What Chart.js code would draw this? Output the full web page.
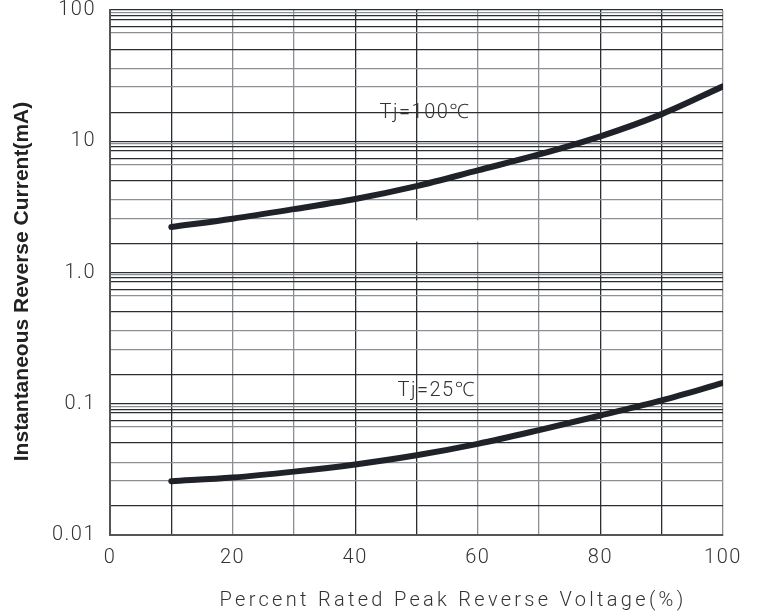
<!DOCTYPE html>
<html>
<head>
<meta charset="utf-8">
<script src="https://cdn.jsdelivr.net/npm/chart.js@4/dist/chart.umd.min.js"></script>
<style>
  html, body { margin: 0; padding: 0; background: #fff; }
  #wrap { width: 763px; height: 615px; }
</style>
</head>
<body>
<div id="wrap"><canvas id="c" width="763" height="615"></canvas></div>
<script>
// ---- data ----
const xValues = [10, 20, 30, 40, 50, 60, 70, 80, 90, 100];
const tj100 = [2.22, 2.57, 3.04, 3.63, 4.55, 6.0, 7.93, 10.9, 16.1, 26.2];
const tj25 = [0.0257, 0.0274, 0.0304, 0.0345, 0.0405, 0.0495, 0.063, 0.0814, 0.106, 0.144];
const xTicks = [0, 10, 20, 30, 40, 50, 60, 70, 80, 90, 100];
const xTickLabels = ['0', '', '20', '', '40', '', '60', '', '80', '', '100'];
const yDecades = [0.01, 0.1, 1, 10, 100];
const yDecadeLabels = ['0.01', '0.1', '1.0', '10', '100'];
const labelTexts = ['Tj=100\u2103', 'Tj=25\u2103'];
const labelAt = [[51.4, 16.3], [53.3, 0.124]];
const xTitle = 'Percent Rated Peak Reverse Voltage(%)';
const yTitle = 'Instantaneous Reverse Current(mA)';

// grid styling (within each decade)
const minorFractions = [0.22, 0.413, 0.555, 0.70, 0.825, 0.871, 0.929, 0.957, 0.98];
const minorDark = [true, false, false, true, false, true, true, true, false];
const DARK = '#2a2e33', GREY = '#8c8f93';

const yTickValues = [];
const yTickDark = [];
yDecades.forEach((d, i) => {
  yTickValues.push(d); yTickDark.push(true);
  if (i < yDecades.length - 1) {
    minorFractions.forEach((f, j) => { yTickValues.push(d * Math.pow(10, f)); yTickDark.push(minorDark[j]); });
  }
});
const xDark = [true, true, false, false, true, true, false, false, true, true, false];

const toPts = (ys) => xValues.map((x, i) => ({ x: x, y: ys[i] }));
const FONT = 'Roboto, "Noto Sans", sans-serif';

const extrasPlugin = {
  id: 'extras',
  beforeDraw(chart) {
    try { chart.ctx.letterSpacing = '1.5px'; } catch (e) {}
  },
  beforeDatasetsDraw(chart) {
    const { ctx, scales: { x, y } } = chart;
    ctx.save();
    ctx.fillStyle = '#fff';
    const x0 = x.getPixelForValue(47), x1 = x.getPixelForValue(63);
    const y0 = y.getPixelForValue(2.5), y1 = y.getPixelForValue(1.72);
    ctx.fillRect(x0, y0, x1 - x0, y1 - y0);
    ctx.restore();
  },
  afterDraw(chart) {
    const { ctx, chartArea, scales: { x, y } } = chart;
    ctx.save();
    ctx.fillStyle = '#333';
    ctx.textAlign = 'center';
    ctx.textBaseline = 'middle';
    ctx.font = '300 20px ' + FONT;
    try { ctx.letterSpacing = '1.5px'; } catch (e) {}
    labelTexts.forEach((t, i) => {
      ctx.fillText(t, x.getPixelForValue(labelAt[i][0]), y.getPixelForValue(labelAt[i][1]));
    });
    // x axis title
    try { ctx.letterSpacing = '3.3px'; } catch (e) {}
    ctx.fillText(xTitle, 453, 601);
    // y axis title
    try { ctx.letterSpacing = '0px'; } catch (e) {}
    ctx.fillStyle = '#222';
    ctx.font = 'bold 21px "Liberation Sans", Arial, sans-serif';
    ctx.translate(22, (chartArea.top + chartArea.bottom) / 2 + 9);
    ctx.rotate(-Math.PI / 2);
    ctx.fillText(yTitle, 0, 0);
    ctx.restore();
    try { ctx.letterSpacing = '0px'; } catch (e) {}
  }
};

new Chart(document.getElementById('c'), {
  type: 'line',
  data: {
    datasets: [
      { data: toPts(tj100), borderColor: '#1f2329', borderWidth: 6, pointRadius: 0, cubicInterpolationMode: 'monotone', borderCapStyle: 'round', fill: false },
      { data: toPts(tj25), borderColor: '#1f2329', borderWidth: 6, pointRadius: 0, cubicInterpolationMode: 'monotone', borderCapStyle: 'round', fill: false }
    ]
  },
  options: {
    responsive: false,
    animation: false,
    devicePixelRatio: 1,
    layout: { padding: { left: 0, right: 40, top: 10, bottom: 0 } },
    plugins: { legend: { display: false }, tooltip: { enabled: false } },
    scales: {
      x: {
        type: 'linear', min: 0, max: 100,
        afterBuildTicks: (s) => { s.ticks = xTicks.map(v => ({ value: v })); },
        afterFit: (s) => { s.height = 80; s.paddingLeft = 0; s.paddingRight = 0; },
        ticks: {
          autoSkip: false, maxRotation: 0, padding: 11, color: '#333',
          font: { family: FONT, size: 20, weight: '300' },
          callback: (v, i) => xTickLabels[i]
        },
        grid: {
          color: (c) => (xDark[c.index] ? DARK : GREY),
          lineWidth: 1.3, drawTicks: false
        },
        border: { color: '#555', width: 2 }
      },
      y: {
        type: 'logarithmic', min: 0.01, max: 100,
        afterBuildTicks: (s) => { s.ticks = yTickValues.map(v => ({ value: v })); },
        afterFit: (s) => { s.width = 110; s.paddingTop = 0; s.paddingBottom = 0; },
        ticks: {
          autoSkip: false, padding: 14, color: '#333',
          font: { family: FONT, size: 20, weight: '300' },
          callback: (v) => { const k = yDecades.findIndex(d => Math.abs(d - v) / d < 1e-6); return k >= 0 ? yDecadeLabels[k] : ''; }
        },
        grid: {
          color: (c) => (yTickDark[c.index] ? DARK : GREY),
          lineWidth: 1.3, drawTicks: false
        },
        border: { color: '#555', width: 2 },
        title: { display: false }
      }
    }
  },
  plugins: [extrasPlugin]
});
</script>
</body>
</html>
